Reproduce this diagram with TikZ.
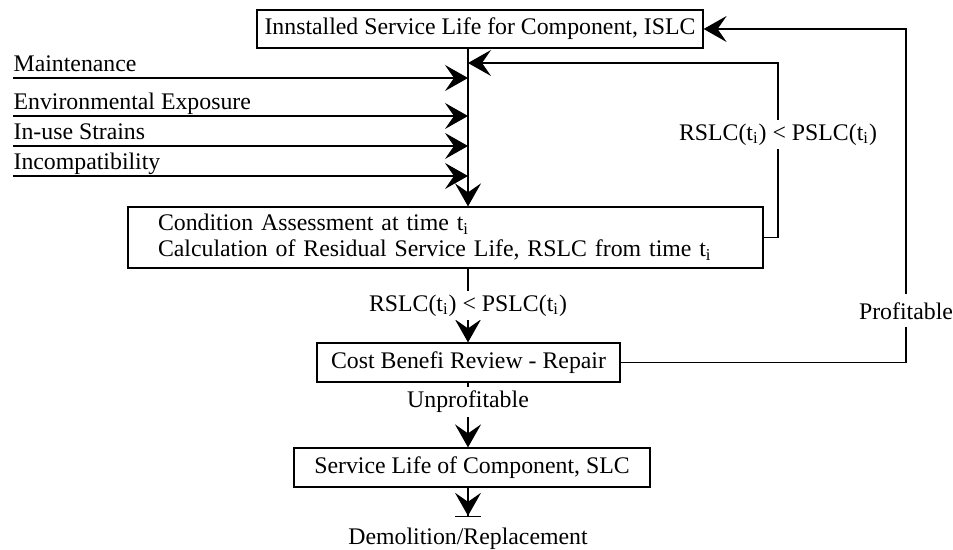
\documentclass[tikz,border=0pt]{standalone}
\usepackage{fontspec}
\setmainfont{Liberation Serif}
\usepackage{tikz}
\usetikzlibrary{arrows.meta,positioning}

\begin{document}
\begin{tikzpicture}[
    x=0.5pt, y=-0.5pt,
    font=\fontsize{11.9}{13}\selectfont,
    line width=0.6pt,
    box/.style={rectangle, draw, inner sep=0pt, align=center},
    arrow/.style={-{Stealth[length=11.5pt, width=13pt, inset=4.5pt]}},
    lab/.style={fill=white, inner sep=2pt},
    cause/.style={anchor=south west, inner xsep=0pt, inner ysep=0.5pt, text depth=0.22em}
]
\useasboundingbox (0,0) rectangle (953,550);

\node[box, minimum width=223pt, minimum height=19pt] (islc) at (480,29) {Innstalled Service Life for Component, ISLC};
\node[box, minimum width=317.5pt, minimum height=30.5pt, text width=287.5pt, inner xsep=15pt, align=left] (cond) at (445.5,237.5)
    {Condition Assessment at time t\textsubscript{i}\\Calculation of Residual Service Life, RSLC from time t\textsubscript{i}};
\node[box, minimum width=151.5pt, minimum height=19.5pt] (cost) at (468.5,362.5) {Cost Benefi Review - Repair};
\node[box, minimum width=178pt, minimum height=19.5pt] (slc) at (472,467.5) {Service Life of Component, SLC};

\coordinate (spine) at (468,0);
\coordinate (inner) at (778,0);
\coordinate (rail) at (906,0);
\coordinate (fbin) at (468,63);
\coordinate (stop) at (468,517);
\node[below=0pt of stop, inner ysep=5pt] (demo) {Demolition/Replacement};

% influences on the component
\node[cause] (maint) at (13,78) {Maintenance};
\node[cause] (env) at (13,116) {Environmental Exposure};
\node[cause] (strain) at (13,146) {In-use Strains};
\node[cause] (incomp) at (13,176) {Incompatibility};

\draw[arrow] (islc.south -| spine) -- (cond.north -| spine);
\draw[arrow] (maint.south west) -- (maint.south west -| spine);
\draw[arrow] (env.south west) -- (env.south west -| spine);
\draw[arrow] (strain.south west) -- (strain.south west -| spine);
\draw[arrow] (incomp.south west) -- (incomp.south west -| spine);

% feedback loops
\draw[arrow] (cond.east) -- (cond.east -| inner)
    -- node[lab, pos=0.59] {RSLC(t\textsubscript{i}) < PSLC(t\textsubscript{i})} (fbin -| inner) -- (fbin);
\draw[arrow] (cost.east) -- (cost.east -| rail)
    -- node[lab, pos=0.155, inner ysep=4pt] {Profitable} (islc.east -| rail) -- (islc.east);

\draw[arrow] (cond.south -| spine) -- node[lab] {RSLC(t\textsubscript{i}) < PSLC(t\textsubscript{i})} (cost.north -| spine);
\draw[arrow] (cost.south -| spine) -- node[lab, pos=0.3] {Unprofitable} (slc.north -| spine);
\draw[-{Stealth[length=11.5pt, width=13pt, inset=4.5pt] Bar[width=13pt]}] (slc.south -| spine) -- (stop);
\end{tikzpicture}
\end{document}
